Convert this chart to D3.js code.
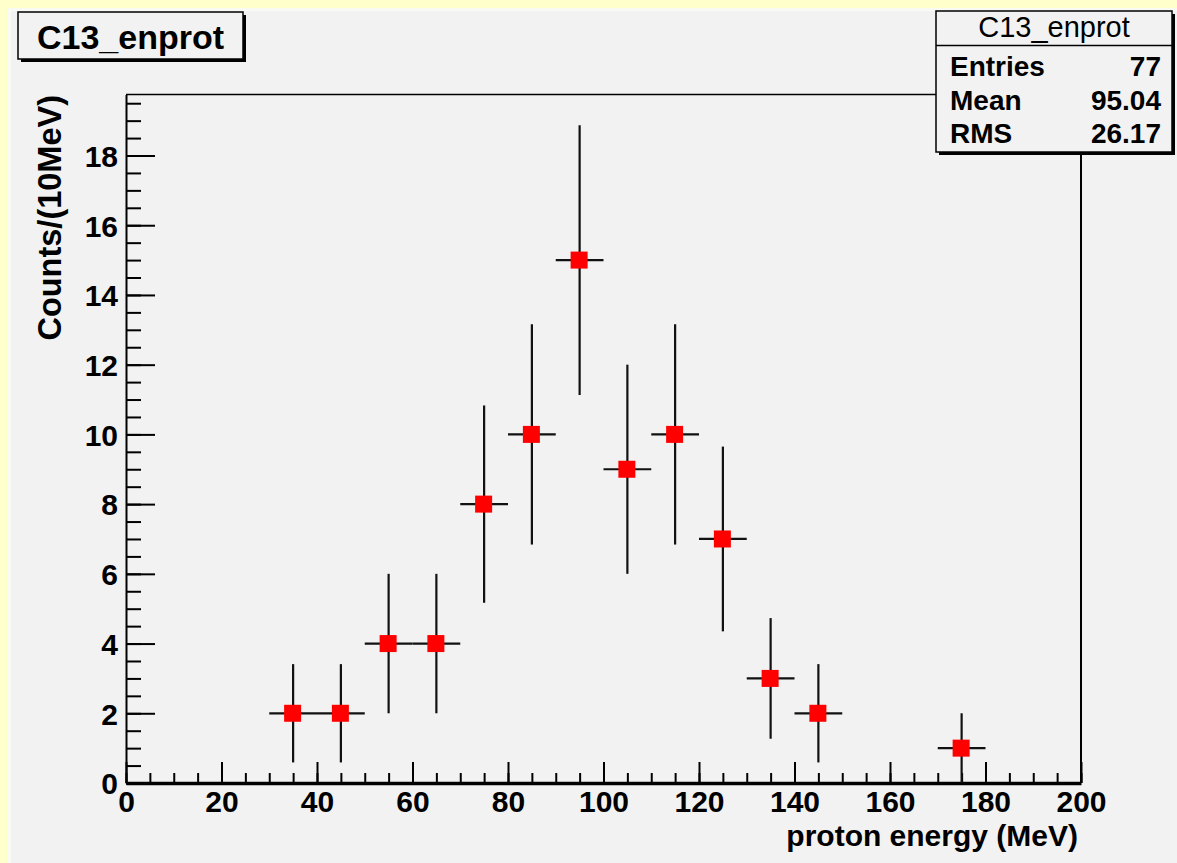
<!DOCTYPE html>
<html>
<head>
<meta charset="utf-8">
<script src="https://cdn.jsdelivr.net/npm/d3@7"></script>
<style>
  body { margin: 0; background: #f2f2f2; }
  svg { display: block; }
  text { font-family: "Liberation Sans", Arial, Helvetica, sans-serif; fill: #000; }
</style>
</head>
<body>
<div id="chart"></div>
<script>
// histogram content (10 MeV bins)
var binCenters = [35, 45, 55, 65, 75, 85, 95, 105, 115, 125, 135, 145, 175];
var counts     = [2, 2, 4, 4, 8, 10, 15, 9, 10, 7, 3, 2, 1];
var errors     = [1.41, 1.41, 2, 2, 2.83, 3.16, 3.87, 3, 3.16, 2.65, 1.73, 1.41, 1];
var binHalfWidth = 5;

var xMajorTicks = d3.range(0, 201, 20);
var xMinorTicks = d3.range(0, 201, 5);
var yMajorTicks = d3.range(0, 19, 2);
var yMinorTicks = d3.range(0, 19.75, 0.5);

var histName = "C13_enprot";
var statsLabels = ["Entries", "Mean", "RMS"];
var statsValues = ["77", "95.04", "26.17"];

var width = 1177, height = 863;
var svg = d3.select("#chart").append("svg").attr("width", width).attr("height", height);

// canvas background + pad
svg.append("rect").attr("width", width).attr("height", height).attr("fill", "#ffffcc");
svg.append("rect").attr("x", 7).attr("y", 8).attr("width", width).attr("height", height).attr("fill", "#fafaf4");
svg.append("rect").attr("x", 11).attr("y", 11).attr("width", width).attr("height", height).attr("fill", "#f2f2f2");

var x = d3.scaleLinear().domain([0, 200]).range([126, 1081]);
var y = d3.scaleLinear().domain([0, 19.75]).range([783, 94.5]);

// frame top / right
svg.append("line").attr("x1", x(0)).attr("x2", x(200)).attr("y1", y(19.75)).attr("y2", y(19.75))
  .attr("stroke", "#000").attr("stroke-width", 1.5);
svg.append("line").attr("x1", x(200)).attr("x2", x(200)).attr("y1", y(19.75)).attr("y2", y(0))
  .attr("stroke", "#000").attr("stroke-width", 2);

// x axis
var xMinor = svg.append("g").attr("transform", "translate(0," + y(0) + ")")
  .call(d3.axisBottom(x).tickValues(xMinorTicks).tickSize(-10).tickSizeOuter(0).tickFormat(""));
var xMajor = svg.append("g").attr("transform", "translate(0," + y(0) + ")")
  .call(d3.axisBottom(x).tickValues(xMajorTicks).tickSize(-21).tickSizeOuter(0).tickPadding(8).tickFormat(d3.format("d")));

// y axis
var yMinor = svg.append("g").attr("transform", "translate(" + x(0) + ",0)")
  .call(d3.axisLeft(y).tickValues(yMinorTicks).tickSize(-15).tickSizeOuter(0).tickFormat(""));
var yMajor = svg.append("g").attr("transform", "translate(" + x(0) + ",0)")
  .call(d3.axisLeft(y).tickValues(yMajorTicks).tickSize(-29).tickSizeOuter(0).tickPadding(8).tickFormat(d3.format("d")));

[xMinor, xMajor, yMinor, yMajor].forEach(function(g) {
  g.selectAll("line").attr("stroke", "#000").attr("stroke-width", 2);
  g.selectAll("text").style("font-size", "30px").style("font-weight", "bold")
    .style("font-family", "'Liberation Sans', Arial, sans-serif").attr("fill", "#000");
});
xMajor.select(".domain").attr("stroke", "#000").attr("stroke-width", 3.5);
xMinor.select(".domain").remove();
yMajor.select(".domain").attr("stroke", "#000").attr("stroke-width", 2);
yMinor.select(".domain").remove();
yMajor.selectAll("text").attr("dy", "0.36em");

// axis titles
svg.append("text").attr("x", 1078).attr("y", 846).attr("text-anchor", "end")
  .style("font-size", "30px").style("font-weight", "bold").text("proton energy (MeV)");
svg.append("text").attr("transform", "translate(61,95) rotate(-90)").attr("text-anchor", "end")
  .style("font-size", "32.5px").style("font-weight", "bold").text("Counts/(10MeV)");

// error bars + markers
var pts = binCenters.map(function(c, i) { return {x: c, y: counts[i], e: errors[i]}; });
var eb = svg.append("g").attr("stroke", "#111").attr("stroke-width", 2.2);
eb.selectAll(".h").data(pts).enter().append("line")
  .attr("x1", function(d) { return x(d.x - binHalfWidth); })
  .attr("x2", function(d) { return x(d.x + binHalfWidth); })
  .attr("y1", function(d) { return y(d.y); })
  .attr("y2", function(d) { return y(d.y); });
eb.selectAll(".v").data(pts).enter().append("line")
  .attr("x1", function(d) { return x(d.x); })
  .attr("x2", function(d) { return x(d.x); })
  .attr("y1", function(d) { return y(d.y - d.e); })
  .attr("y2", function(d) { return y(d.y + d.e); });
svg.append("g").selectAll("rect").data(pts).enter().append("rect")
  .attr("x", function(d) { return x(d.x) - 9; })
  .attr("y", function(d) { return y(d.y) - 8.5; })
  .attr("width", 17).attr("height", 17)
  .attr("fill", "#ff0000");

// title box
svg.append("rect").attr("x", 21).attr("y", 15).attr("width", 225).attr("height", 47).attr("fill", "#000");
svg.append("rect").attr("x", 18).attr("y", 12).attr("width", 225).attr("height", 47)
  .attr("fill", "#f2f2f2").attr("stroke", "#000").attr("stroke-width", 1.5);
svg.append("text").attr("x", 130.5).attr("y", 48.5).attr("text-anchor", "middle")
  .style("font-size", "34px").style("font-weight", "bold").text(histName);

// stats box
svg.append("rect").attr("x", 939).attr("y", 14).attr("width", 236).attr("height", 141).attr("fill", "#000");
svg.append("rect").attr("x", 936).attr("y", 11).attr("width", 236).attr("height", 141)
  .attr("fill", "#f2f2f2").attr("stroke", "#000").attr("stroke-width", 1.5);
svg.append("line").attr("x1", 936).attr("x2", 1172).attr("y1", 45.5).attr("y2", 45.5)
  .attr("stroke", "#000").attr("stroke-width", 1.5);
svg.append("text").attr("x", 1054).attr("y", 37).attr("text-anchor", "middle")
  .style("font-size", "29px").text(histName);
var rows = svg.append("g").selectAll("g").data(statsLabels).enter().append("g");
rows.append("text").attr("x", 950).attr("y", function(d, i) { return 76 + i * 33.5; })
  .style("font-size", "28px").style("font-weight", "bold").text(function(d) { return d; });
rows.append("text").attr("x", 1161).attr("y", function(d, i) { return 76 + i * 33.5; })
  .attr("text-anchor", "end")
  .style("font-size", "28px").style("font-weight", "bold").text(function(d, i) { return statsValues[i]; });
</script>
</body>
</html>
